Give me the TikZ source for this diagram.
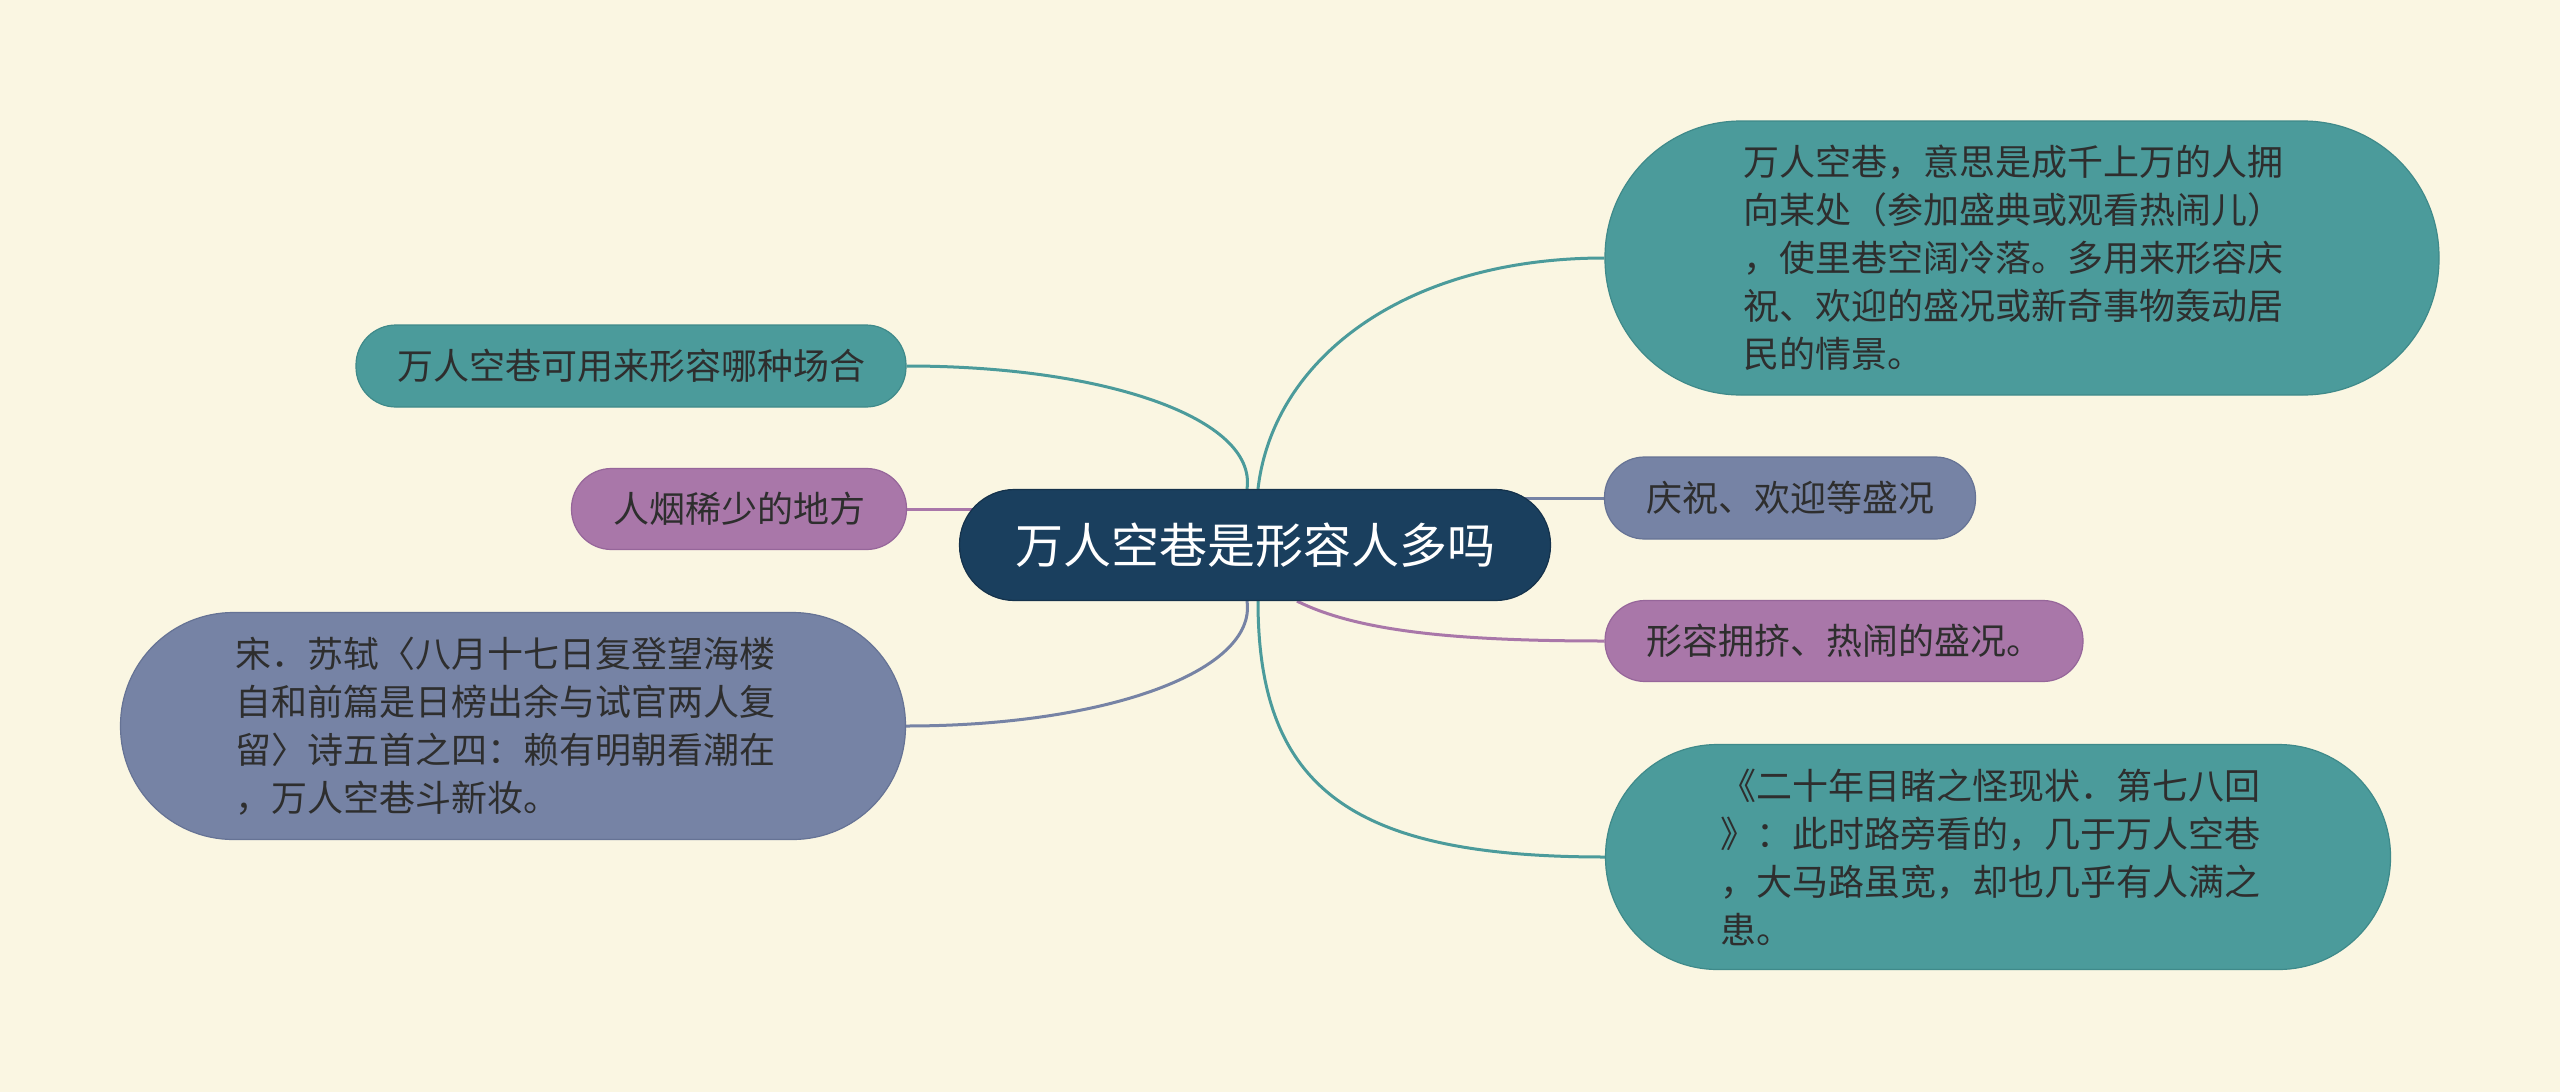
\documentclass[tikz,border=0pt]{standalone}
\usepackage{fontspec}
\setmainfont{Noto Sans CJK SC}
\usetikzlibrary{backgrounds}
\definecolor{bg}{HTML}{FAF6E2}
\definecolor{tealf}{HTML}{4B9B9B}
\definecolor{teald}{HTML}{3F8A8A}
\definecolor{slatef}{HTML}{7683A5}
\definecolor{slated}{HTML}{667395}
\definecolor{purpf}{HTML}{A977A9}
\definecolor{purpd}{HTML}{96669A}
\definecolor{navy}{HTML}{1A3F5E}
\definecolor{txt}{HTML}{2E2E2E}
\tikzset{
  box/.style={rectangle, text=txt, font=\fontsize{36}{48}\selectfont, align=left, inner sep=0pt, line width=1.2pt},
  tealbox/.style={box, fill=tealf, draw=teald},
  slatebox/.style={box, fill=slatef, draw=slated},
  purpbox/.style={box, fill=purpf, draw=purpd},
  conn/.style={line width=3pt},
  tealline/.style={conn, draw=tealf},
  slateline/.style={conn, draw=slatef},
  purpline/.style={conn, draw=purpf}
}
\begin{document}
\begin{tikzpicture}[x=1pt,y=-1pt]
\useasboundingbox (0,0) rectangle (2560,1092);
% central
\node[rectangle, fill=navy, draw=navy!80!black, line width=1.2pt, text=white, inner sep=0pt,
      minimum width=591pt, minimum height=111pt, rounded corners=55pt,
      font=\fontsize{48}{56}\selectfont] (c) at (1255,545) {万人空巷是形容人多吗};
% right side
\node[tealbox, minimum width=834pt, minimum height=274pt, rounded corners=136pt] (tr) at (2022,258)
 {万人空巷，意思是成千上万的人拥\hspace*{18pt}\\向某处（参加盛典或观看热闹儿）\\，使里巷空阔冷落。多用来形容庆\\祝、欢迎的盛况或新奇事物轰动居\\民的情景。};
\node[slatebox, minimum width=371pt, minimum height=82pt, rounded corners=40pt] (sr) at (1790,498) {庆祝、欢迎等盛况};
\node[purpbox, minimum width=478pt, minimum height=81pt, rounded corners=40pt] (pr) at (1844,641) {形容拥挤、热闹的盛况。};
\node[tealbox, minimum width=785pt, minimum height=225pt, rounded corners=112pt] (br) at (1998,857)
 {《二十年目睹之怪现状．第七八回\hspace*{16pt}\\》：此时路旁看的，几于万人空巷\\，大马路虽宽，却也几乎有人满之\\患。};
% left side
\node[tealbox, minimum width=550pt, minimum height=82pt, rounded corners=40pt] (tl) at (631,366) {万人空巷可用来形容哪种场合};
\node[purpbox, minimum width=335pt, minimum height=81pt, rounded corners=40pt] (pl) at (739,509) {人烟稀少的地方};
\node[slatebox, minimum width=785pt, minimum height=227pt, rounded corners=113pt] (bl) at (513,726)
 {宋．苏轼〈八月十七日复登望海楼\hspace*{16pt}\\自和前篇是日榜出余与试官两人复\\留〉诗五首之四：赖有明朝看潮在\\，万人空巷斗新妆。};
\begin{pgfonlayer}{background}
\fill[bg] (0,0) rectangle (2560,1092);
\coordinate (ctr) at ([xshift=3pt]c.north);
\coordinate (ctl) at ([xshift=-8pt]c.north);
\coordinate (cbl) at ([xshift=-8pt]c.south);
\coordinate (cbr) at ([xshift=3pt]c.south);
\coordinate (cpr) at ([xshift=42pt]c.south);
\draw[tealline] (tr.west) .. controls +(-200,0) and +(15,-130) .. (ctr);
\draw[tealline] (tl.east) .. controls +(200,0) and +(10,-70) .. (ctl);
\draw[purpline] (pl.east) -- (pl.east -| c.center);
\draw[slateline] (sr.west) -- (sr.west -| c.center);
\draw[slateline] (bl.east) .. controls +(200,0) and +(10,70) .. (cbl);
\draw[tealline] (br.west) .. controls +(-250,0) and +(0,190) .. (cbr);
\draw[purpline] (pr.west) .. controls +(-150,0) and +(60,30) .. (cpr);
\end{pgfonlayer}
\end{tikzpicture}
\end{document}
